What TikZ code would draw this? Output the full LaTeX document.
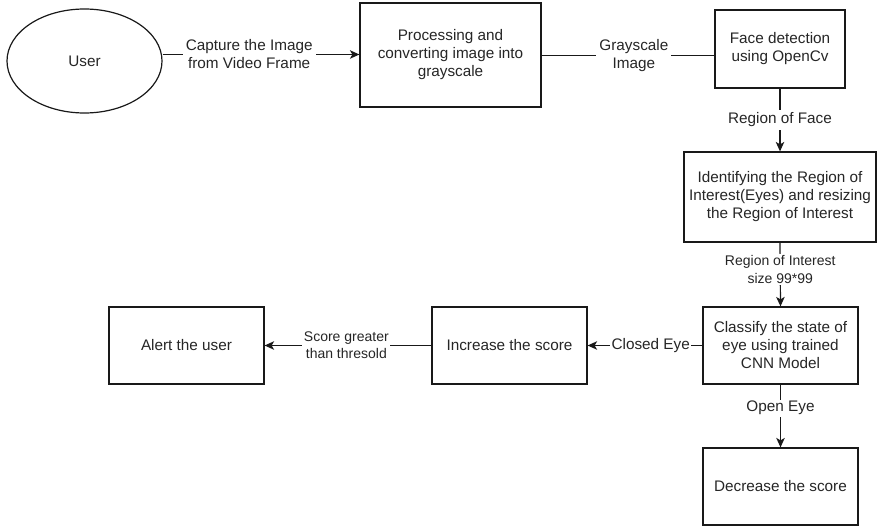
\documentclass[tikz,border=0pt]{standalone}
\usepackage{fontspec}
\setmainfont{Liberation Sans}
\usetikzlibrary{arrows.meta,shapes.geometric}
\begin{document}
\begin{tikzpicture}[x=1pt,y=-1pt,
  every node/.style={font=\fontsize{15.3}{18}\selectfont, text=black!85},
  box/.style={draw=black!90, line width=1.2pt, rectangle, align=center, inner sep=2pt},
  oval/.style={draw=black!90, line width=1.2pt, ellipse, inner sep=0pt},
  lbl/.style={fill=white, align=center, inner sep=3pt},
  conn/.style={draw=black!90, line width=1.2pt},
  arr/.style={conn, -{Stealth[length=9.5pt,width=8.5pt,inset=2.5pt]}}
]
\useasboundingbox (0,0) rectangle (877,526);
\fill[white] (0,0) rectangle (877,526);

\node[oval, minimum width=155pt, minimum height=104pt] (user) at (84.5,61) {User};
\node[box, minimum width=181pt, minimum height=104pt] (proc) at (450.5,55) {Processing and\\converting image into\\grayscale};
\node[box, minimum width=130pt, minimum height=78pt] (face) at (780,49) {Face detection\\using OpenCv};
\node[box, minimum width=192pt, minimum height=90pt] (roi) at (780,197) {Identifying the Region of\\Interest(Eyes) and resizing\\the Region of Interest};
\node[box, minimum width=155pt, minimum height=77pt] (cls) at (780.5,345.5) {Classify the state of\\eye using trained\\CNN Model};
\node[box, minimum width=155pt, minimum height=77pt] (dec) at (780.5,486.5) {Decrease the score};
\node[box, minimum width=155pt, minimum height=77pt] (inc) at (509.5,345.5) {Increase the score};
\node[box, minimum width=155pt, minimum height=77pt] (alert) at (186.5,345.5) {Alert the user};

\coordinate (r1) at (0,54.5);
\coordinate (r2) at (0,55.5);
\coordinate (r3) at (0,345.5);

\draw[arr] (user.east |- r1) -- node[lbl, pos=0.44] (l1) {Capture the Image\\from Video Frame} (proc.west |- r1);
\draw[conn] (proc.east |- r2) -- node[lbl, pos=0.534] (l2) {Grayscale\\Image} (face.west |- r2);
\draw[arr] (face.south) -- node[lbl, pos=0.5] (l3) {Region of Face} (roi.north);
\draw[arr] (roi.south) -- node[lbl, pos=0.42, inner sep=1.5pt, font=\fontsize{14}{18}\selectfont] (l4) {Region of Interest\\size 99*99} (cls.north);
\draw[arr] (cls.west |- r3) -- node[lbl, pos=0.45, inner sep=1.5pt] (l5) {Closed Eye} (inc.east |- r3);
\draw[arr] (cls.south) -- node[lbl, pos=0.375, inner sep=1.5pt] (l6) {Open Eye} (dec.north);
\draw[arr] (inc.west |- r3) -- node[lbl, pos=0.51, inner sep=1.5pt, font=\fontsize{14}{17}\selectfont] (l7) {Score greater\\than thresold} (alert.east |- r3);
\end{tikzpicture}
\end{document}
